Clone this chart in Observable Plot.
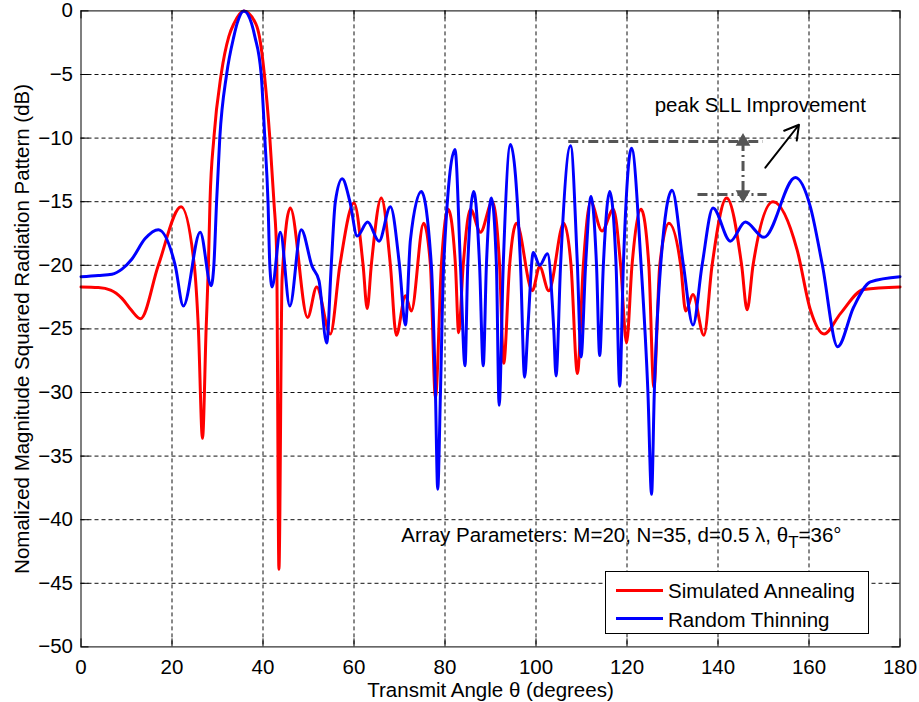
<!DOCTYPE html>
<html>
<head>
<meta charset="utf-8">
<script src="https://cdn.jsdelivr.net/npm/d3@7"></script>
<script src="https://cdn.jsdelivr.net/npm/@observablehq/plot@0.6"></script>
<style>
  html, body { margin: 0; padding: 0; background: #fff; }
  #wrap { position: relative; width: 919px; height: 702px; font-family: "Liberation Sans", Arial, Helvetica, sans-serif; }
  #legend { position: absolute; left: 605px; top: 571px; width: 264px; height: 63px; border: 1px solid #000; background: #fff; box-sizing: border-box; font-size: 20.5px; }
  #legend .sw { position: absolute; left: 10px; width: 47px; height: 3px; }
  #legend .lb { position: absolute; left: 62px; line-height: 20px; white-space: nowrap; color: #000; }
</style>
</head>
<body>
<div id="wrap"></div>
<script>
// ---- data ----
const seriesNames = ["Simulated Annealing", "Random Thinning"];
const seriesColors = ["#ff0000", "#0000ff"];

const saTheta = [0, 3.8, 6.5, 9.0, 11.0, 13.1, 17.0, 22.0, 24.9, 25.8, 26.7, 27.5, 28.0, 28.35, 29.2, 30.8, 32.5, 33.6, 35.8, 38.4, 39.2, 40.3, 41.5, 42.4, 43.0, 43.5, 44.2, 46.0, 49.8, 51.8, 54.8, 56.9, 60.0, 62.0, 62.9, 63.8, 66.0, 68.0, 69.3, 71.3, 72.6, 75.3, 76.8, 77.9, 79.2, 80.7, 82.3, 83.0, 84.0, 85.6, 87.8, 90.4, 92.0, 92.9, 94.2, 95.7, 99.2, 100.8, 102.8, 106.1, 107.7, 109.1, 110.4, 112.0, 114.5, 117.0, 118.6, 119.9, 121.1, 123.1, 124.8, 125.9, 127.2, 129.2, 131.8, 132.9, 134.5, 136.9, 138.7, 141.9, 145.2, 146.4, 147.7, 152.1, 157.4, 160.3, 163.3, 166.9, 172.0, 180];
const saDb = [-21.7, -21.75, -21.95, -22.6, -23.5, -24.2, -20.0, -15.4, -20.0, -25.0, -33.6, -25.0, -20.0, -15.0, -10.0, -5.0, -2.0, -1.0, 0, -1.0, -2.0, -5.0, -10.0, -15.0, -19.0, -43.9, -21.0, -15.5, -24.1, -21.7, -25.4, -20.0, -15.1, -20.0, -23.4, -20.0, -14.7, -20.0, -25.5, -22.4, -23.6, -16.7, -20.0, -30.4, -20.0, -15.6, -20.0, -25.3, -20.0, -15.6, -17.4, -15.0, -20.0, -27.7, -20.0, -16.7, -22.0, -20.1, -22.0, -16.7, -20.0, -28.5, -20.0, -15.0, -17.3, -15.6, -20.0, -26.1, -20.0, -15.6, -20.0, -29.6, -20.0, -16.7, -20.0, -23.6, -22.3, -25.5, -20.0, -14.7, -20.0, -23.5, -20.0, -15.0, -18.8, -23.5, -25.4, -23.8, -21.9, -21.7];

const rtTheta = [0, 3.8, 6.8, 9.0, 11.2, 14.1, 17.0, 20.7, 22.5, 26.2, 28.6, 29.2, 29.8, 30.5, 32.0, 33.6, 34.3, 35.8, 37.5, 38.2, 39.6, 40.4, 41.1, 41.5, 42.0, 43.8, 45.9, 48.4, 50.8, 52.3, 54.0, 55.0, 55.9, 57.4, 59.1, 60.7, 63.0, 65.5, 68.0, 70.0, 71.3, 72.4, 74.8, 77.0, 77.9, 78.4, 79.0, 79.7, 82.2, 83.4, 84.4, 85.0, 86.3, 87.6, 88.4, 89.1, 90.2, 91.3, 91.9, 92.8, 94.4, 96.6, 97.5, 98.2, 99.4, 100.8, 102.5, 103.9, 104.4, 105.4, 107.6, 109.1, 109.9, 110.9, 112.1, 113.3, 114.0, 114.8, 116.2, 117.6, 118.4, 119.2, 121.0, 123.1, 124.6, 125.4, 126.0, 127.4, 129.9, 132.4, 134.5, 136.5, 138.9, 142.7, 146.0, 150.1, 157.0, 160.3, 162.9, 166.3, 169.8, 173.5, 180];
const rtDb = [-20.9, -20.8, -20.7, -20.3, -19.5, -17.9, -17.2, -20.0, -23.2, -17.4, -21.6, -20.0, -15.0, -10.0, -5.0, -2.0, -1.0, 0, -1.0, -2.0, -5.0, -10.0, -15.0, -20.0, -21.7, -17.4, -23.2, -17.2, -20.1, -21.2, -26.1, -20.0, -15.0, -13.2, -15.0, -17.7, -16.6, -18.1, -15.4, -20.0, -24.7, -18.0, -14.2, -20.0, -30.0, -37.6, -30.0, -20.0, -10.9, -20.0, -27.9, -20.0, -14.2, -20.0, -27.9, -20.0, -14.7, -20.0, -31.0, -20.0, -10.5, -20.0, -28.8, -25.0, -19.0, -20.0, -19.1, -25.0, -28.7, -20.0, -10.6, -20.0, -27.2, -20.0, -14.6, -20.0, -27.1, -20.0, -14.2, -20.0, -29.5, -20.0, -10.8, -20.0, -30.0, -38.0, -30.0, -20.0, -14.1, -20.0, -24.7, -20.0, -15.5, -18.1, -16.6, -17.8, -13.1, -15.4, -19.9, -26.4, -23.3, -21.3, -20.9];

const xTicks = [0, 20, 40, 60, 80, 100, 120, 140, 160, 180];
const yTicks = [0, -5, -10, -15, -20, -25, -30, -35, -40, -45, -50];

// annotation: peak SLL improvement
const sllTopX = [107.2, 149.9], sllTopY = -10.27;
const sllBotX = [135.6, 150.8], sllBotY = -14.43;
const sllArrowX = 145.5;
const noteArrow = {x1: 150.4, y1: -12.33, x2: 157.8, y2: -8.95};
const noteText = "peak SLL Improvement", noteX = 149.3, noteY = -7.46;
const paramText = "Array Parameters: M=20, N=35, d=0.5 λ, θT=36°", paramX = 70.4, paramY = -41.25;
const xLabel = "Transmit Angle θ (degrees)";
const yLabel = "Nomalized Magnitude Squared Radiation Pattern (dB)";

// ---- build ----
const rows = [
  ...saTheta.map((t, i) => ({series: seriesNames[0], theta: t, db: saDb[i]})),
  ...rtTheta.map((t, i) => ({series: seriesNames[1], theta: t, db: rtDb[i]}))
];

const W = 919, H = 702, mL = 80.5, mR = 19.5, mT = 10.4, mB = 55.6;
const pW = W - mL - mR, pH = H - mT - mB, tk = 8;
const gray = "#555";
const fs = 20.5;

const chart = Plot.plot({
  width: W, height: H,
  marginLeft: mL, marginRight: mR, marginTop: mT, marginBottom: mB,
  style: {fontFamily: '"Liberation Sans", Arial, Helvetica, sans-serif', fontSize: fs + "px", background: "#fff", color: "#000", overflow: "visible"},
  x: {domain: [0, 180]},
  y: {domain: [-50, 0]},
  color: {domain: seriesNames, range: seriesColors},
  marks: [
    Plot.ruleX(xTicks.slice(1, -1), {x: d => d, stroke: "#111", strokeWidth: 1, strokeDasharray: "4,3"}),
    Plot.ruleY(yTicks.slice(1, -1), {y: d => d, stroke: "#111", strokeWidth: 1, strokeDasharray: "4,3"}),
    Plot.line(rows.filter(d => d.series === seriesNames[0]), {x: "theta", y: "db", stroke: "series", strokeWidth: 3, curve: "monotone-x"}),
    Plot.line(rows.filter(d => d.series === seriesNames[1]), {x: "theta", y: "db", stroke: "series", strokeWidth: 3, curve: "monotone-x"}),
    // annotations
    Plot.ruleY([sllTopY], {x1: sllTopX[0], x2: sllTopX[1], y: d => d, stroke: gray, strokeWidth: 3, strokeDasharray: "10,4,2,4"}),
    Plot.ruleY([sllBotY], {x1: sllBotX[0], x2: sllBotX[1], y: d => d, stroke: gray, strokeWidth: 3, strokeDasharray: "10,4,2,4"}),
    Plot.ruleX([sllArrowX], {x: d => d, y1: sllTopY, y2: sllBotY, stroke: gray, strokeWidth: 3, strokeDasharray: "10,4,2,4"}),
    Plot.dot([{y: sllTopY, r: 0}, {y: sllBotY, r: 180}], {x: () => sllArrowX, y: "y", rotate: "r", symbol: "triangle", r: 4.5, fill: gray, stroke: gray}),
    Plot.arrow([noteArrow], {x1: "x1", y1: "y1", x2: "x2", y2: "y2", stroke: "#000", strokeWidth: 2, headLength: 12}),
    Plot.text([noteText], {x: () => noteX, y: () => noteY, text: d => d, fontSize: fs, fill: "#000", textAnchor: "middle", lineAnchor: "middle"}),
    Plot.text([paramText], {x: () => paramX, y: () => paramY, text: d => d, fontSize: fs, fill: "#000", textAnchor: "start", lineAnchor: "middle"}),
    // ticks inside
    Plot.tickX(xTicks, {x: d => d, insetTop: pH - tk, stroke: "#000"}),
    Plot.tickX(xTicks, {x: d => d, insetBottom: pH - tk, stroke: "#000"}),
    Plot.tickY(yTicks, {y: d => d, insetRight: pW - tk, stroke: "#000"}),
    Plot.tickY(yTicks, {y: d => d, insetLeft: pW - tk, stroke: "#000"}),
    Plot.frame({stroke: "#000", strokeWidth: 1}),
    Plot.axisX({ticks: xTicks, tickSize: 0, tickPadding: 13, label: null, fontSize: fs}),
    Plot.axisY({ticks: yTicks, tickSize: 0, tickPadding: 8, label: null, fontSize: fs}),
    Plot.text([xLabel], {frameAnchor: "bottom", text: d => d, dy: 43.2, fontSize: fs, fill: "#000", textAnchor: "middle", lineAnchor: "middle"}),
    Plot.text([yLabel], {frameAnchor: "left", text: d => d, rotate: -90, dx: -59, fontSize: fs, fill: "#000", textAnchor: "middle", lineAnchor: "middle"})
  ]
});

document.getElementById("wrap").appendChild(chart);

// subscript T in the parameter text
d3.select(chart).selectAll("text").each(function() {
  const t = this.textContent;
  if (t === paramText) {
    const parts = t.split("θT");
    const el = d3.select(this);
    el.text(null);
    el.append("tspan").text(parts[0] + "θ");
    el.append("tspan").attr("dy", 6).attr("font-size", 17).text("T");
    el.append("tspan").attr("dy", -6).text(parts[1]);
  }
});

// legend
const legend = document.createElement("div");
legend.id = "legend";
const swTop = [16.5, 45.3], lbTop = [9.0, 37.5];
seriesNames.forEach((name, i) => {
  const sw = document.createElement("div");
  sw.className = "sw"; sw.style.top = swTop[i] + "px"; sw.style.background = seriesColors[i];
  const lb = document.createElement("div");
  lb.className = "lb"; lb.style.top = lbTop[i] + "px"; lb.textContent = name;
  legend.appendChild(sw); legend.appendChild(lb);
});
document.getElementById("wrap").appendChild(legend);
</script>
</body>
</html>
